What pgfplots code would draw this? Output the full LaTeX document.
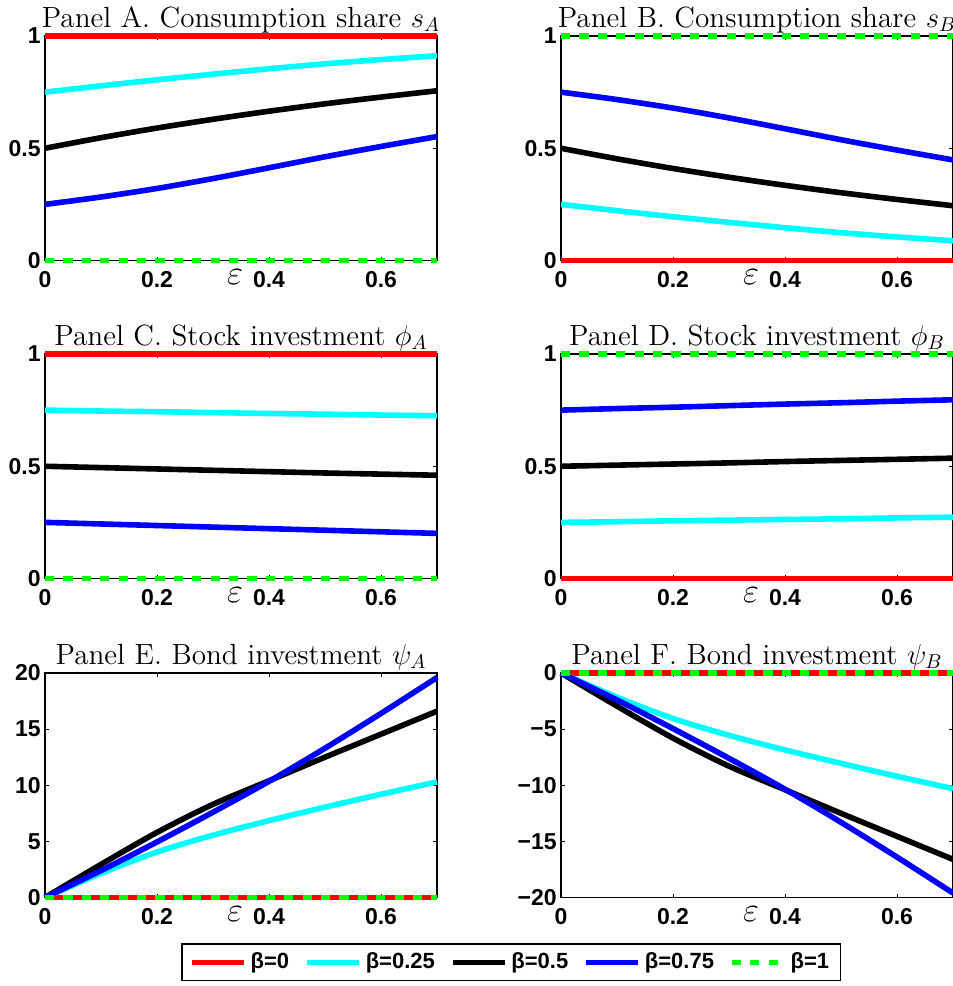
\documentclass[border=0pt]{standalone}
\usepackage{fontspec}
\usepackage{pgfplots}
\pgfplotsset{compat=1.18}
\usepackage{pgfplotstable}
\newfontfamily\tickfont{Liberation Sans}
\definecolor{mred}{RGB}{255,0,0}
\definecolor{mcyan}{RGB}{0,255,255}
\definecolor{mblue}{RGB}{0,0,255}
\definecolor{mgreen}{RGB}{0,255,0}

% s_A
\pgfplotstableread{
e    c      k      b
0.0  0.750  0.500  0.250
0.1  0.778  0.547  0.283
0.2  0.805  0.590  0.321
0.3  0.830  0.629  0.365
0.4  0.854  0.665  0.413
0.5  0.876  0.698  0.462
0.6  0.895  0.728  0.508
0.7  0.912  0.756  0.552
}\tA
% s_B
\pgfplotstableread{
e    c      k      b
0.0  0.250  0.500  0.750
0.1  0.222  0.453  0.717
0.2  0.195  0.410  0.679
0.3  0.170  0.371  0.635
0.4  0.146  0.335  0.587
0.5  0.124  0.302  0.538
0.6  0.105  0.272  0.492
0.7  0.088  0.244  0.448
}\tB
% phi_A
\pgfplotstableread{
e    c      k      b
0.0  0.750  0.500  0.250
0.1  0.746  0.494  0.243
0.2  0.743  0.488  0.236
0.3  0.739  0.482  0.229
0.4  0.735  0.476  0.222
0.5  0.732  0.470  0.215
0.6  0.728  0.465  0.208
0.7  0.725  0.460  0.201
}\tC
% phi_B
\pgfplotstableread{
e    c      k      b
0.0  0.250  0.500  0.750
0.1  0.253  0.505  0.757
0.2  0.257  0.510  0.763
0.3  0.260  0.515  0.770
0.4  0.263  0.521  0.777
0.5  0.266  0.526  0.783
0.6  0.270  0.531  0.790
0.7  0.273  0.536  0.796
}\tD
% psi_A
\pgfplotstableread{
e    c      k      b
0.0  0.00   0.00   0.00
0.1  2.15   2.95   2.40
0.2  4.05   5.80   4.95
0.3  5.55   8.30   7.60
0.4  6.85   10.40  10.35
0.5  8.05   12.50  13.30
0.6  9.20   14.55  16.40
0.7  10.30  16.60  19.60
}\tE
% psi_B
\pgfplotstableread{
e    c       k       b
0.0  0.00    0.00    0.00
0.1  -2.15   -2.95   -2.40
0.2  -4.05   -5.80   -4.95
0.3  -5.55   -8.30   -7.60
0.4  -6.85   -10.40  -10.35
0.5  -8.05   -12.50  -13.30
0.6  -9.20   -14.55  -16.40
0.7  -10.30  -16.60  -19.60
}\tF

\pgfplotsset{
  every axis title shift=0pt,
  panel/.style={
    scale only axis, width=196pt, height=112.25pt,
    xmin=0, xmax=0.7,
    xtick={0,0.2,0.4,0.6}, xticklabels={0,0.2,0.4,0.6},
    tick align=inside, major tick length=2pt,
    tick style={black, line width=0.4pt},
    axis line style={line width=0.6pt},
    ticklabel style={font=\fontsize{11.5}{13}\selectfont\tickfont\bfseries},
    yticklabel style={inner xsep=2pt},
    xticklabel style={yshift=-2pt},
    xlabel={$\varepsilon$},
    xlabel style={at={(axis description cs:0.485,0)}, anchor=base, yshift=-11.8pt, font=\fontsize{16}{18}\selectfont},
    title style={at={(axis description cs:0.5,1)}, anchor=base, yshift=4.5pt, font=\fontsize{14.6}{17}\selectfont},
    clip=false,
    every axis plot/.append style={line width=2.8pt},
    legend image code/.code={\draw[##1] (0pt,0pt) -- (26pt,0pt);},
  },
  unit/.style={ymin=0, ymax=1, ytick={0,0.5,1}, yticklabels={0,0.5,1}},
  greendash/.style={mgreen, dash pattern=on 4.6pt off 4.6pt},
}

\begin{document}
\begin{tikzpicture}
\path[use as bounding box] (0,0) rectangle (476.2pt,-493pt);

% Panel A
\begin{axis}[panel, unit, at={(22.5pt,-18pt)}, anchor=north west,
  title={Panel A. Consumption share $s_A$}]
\addplot[mred] coordinates {(0,1) (0.7,1)};
\addplot[mcyan, smooth] table[x=e,y=c] {\tA};
\addplot[black, smooth] table[x=e,y=k] {\tA};
\addplot[mblue, smooth] table[x=e,y=b] {\tA};
\addplot[greendash] coordinates {(0,0) (0.7,0)};
\end{axis}

% Panel B
\begin{axis}[panel, unit, at={(280.5pt,-18pt)}, anchor=north west,
  title={Panel B. Consumption share $s_B$}]
\addplot[mred] coordinates {(0,0) (0.7,0)};
\addplot[mcyan, smooth] table[x=e,y=c] {\tB};
\addplot[black, smooth] table[x=e,y=k] {\tB};
\addplot[mblue, smooth] table[x=e,y=b] {\tB};
\addplot[greendash] coordinates {(0,1) (0.7,1)};
\end{axis}

% Panel C
\begin{axis}[panel, unit, at={(22.5pt,-177pt)}, anchor=north west,
  title={Panel C. Stock investment $\phi_A$}]
\addplot[mred] coordinates {(0,1) (0.7,1)};
\addplot[mcyan, smooth] table[x=e,y=c] {\tC};
\addplot[black, smooth] table[x=e,y=k] {\tC};
\addplot[mblue, smooth] table[x=e,y=b] {\tC};
\addplot[greendash] coordinates {(0,0) (0.7,0)};
\end{axis}

% Panel D
\begin{axis}[panel, unit, at={(280.5pt,-177pt)}, anchor=north west,
  title={Panel D. Stock investment $\phi_B$}]
\addplot[mred] coordinates {(0,0) (0.7,0)};
\addplot[mcyan, smooth] table[x=e,y=c] {\tD};
\addplot[black, smooth] table[x=e,y=k] {\tD};
\addplot[mblue, smooth] table[x=e,y=b] {\tD};
\addplot[greendash] coordinates {(0,1) (0.7,1)};
\end{axis}

% Panel E
\begin{axis}[panel, at={(22.5pt,-336.5pt)}, anchor=north west,
  ymin=0, ymax=20, ytick={0,5,10,15,20}, yticklabels={0,5,10,15,20},
  title={Panel E. Bond investment $\psi_A$},
  legend columns=5,
  legend style={at={(axis description cs:1.189,-0.289)}, anchor=center,
    draw=black, line width=0.6pt, inner xsep=3.5pt, inner ysep=2.5pt,
    font=\fontsize{11}{13}\selectfont\tickfont\bfseries,
    /tikz/every even column/.append style={column sep=5.5pt}}]
\addplot[mred] coordinates {(0,0) (0.7,0)};
\addlegendentry{β=0}
\addplot[mcyan, smooth] table[x=e,y=c] {\tE};
\addlegendentry{β=0.25}
\addplot[black, smooth] table[x=e,y=k] {\tE};
\addlegendentry{β=0.5}
\addplot[mblue, smooth] table[x=e,y=b] {\tE};
\addlegendentry{β=0.75}
\addplot[greendash] coordinates {(0,0) (0.7,0)};
\addlegendentry{β=1}
\end{axis}

% Panel F
\begin{axis}[panel, at={(280.5pt,-336.5pt)}, anchor=north west,
  ymin=-20, ymax=0, ytick={-20,-15,-10,-5,0}, yticklabels={−20,−15,−10,−5,0},
  title={Panel F. Bond investment $\psi_B$}]
\addplot[mred] coordinates {(0,0) (0.7,0)};
\addplot[mcyan, smooth] table[x=e,y=c] {\tF};
\addplot[black, smooth] table[x=e,y=k] {\tF};
\addplot[mblue, smooth] table[x=e,y=b] {\tF};
\addplot[greendash] coordinates {(0,0) (0.7,0)};
\end{axis}
\end{tikzpicture}
\end{document}
